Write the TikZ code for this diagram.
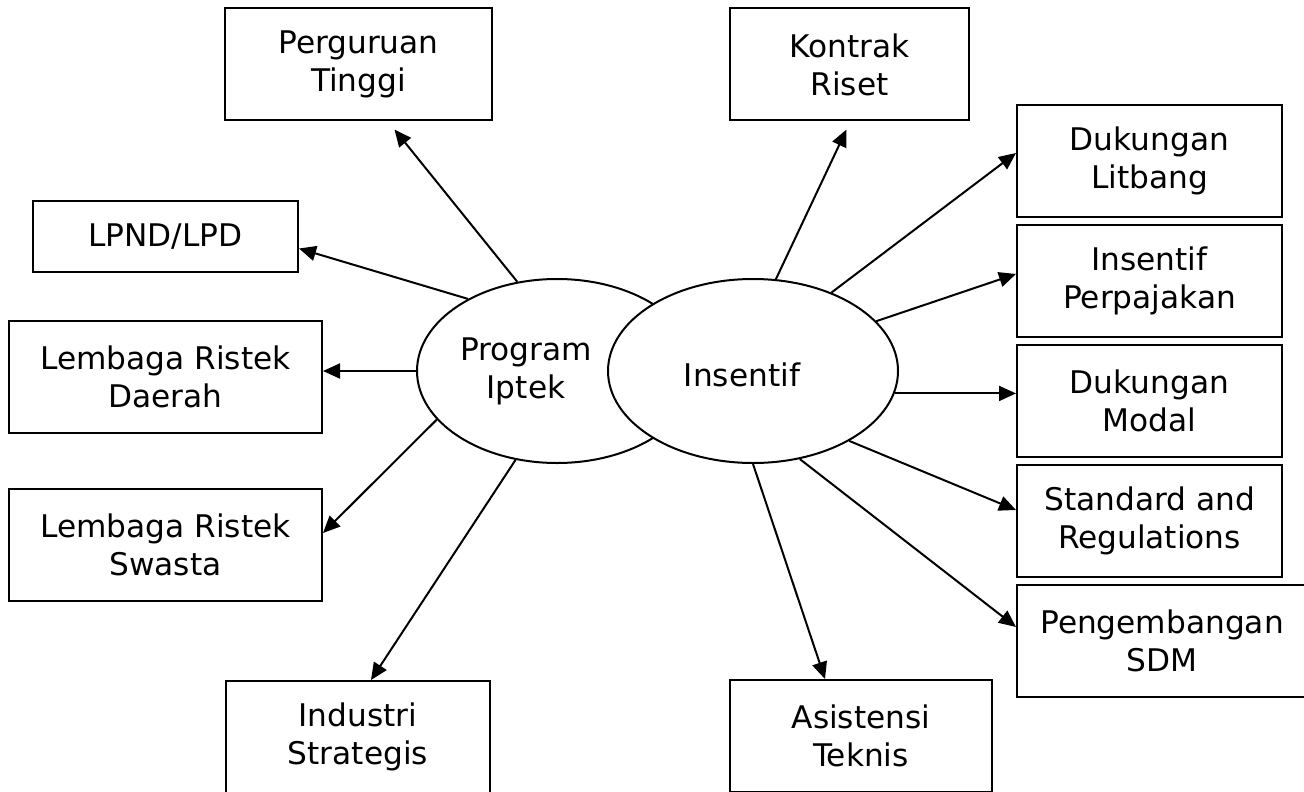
\documentclass[tikz,border=0pt]{standalone}
\usepackage{fontspec}
\setmainfont{DejaVu Sans}
\usetikzlibrary{positioning,arrows.meta,shapes.geometric}

\begin{document}
\begin{tikzpicture}[
    x=0.5pt, y=-0.5pt,
    font={\fontsize{15.6}{19}\selectfont},
    every node/.style={align=center},
    box/.style={draw,rectangle,line width=1pt,inner sep=0pt,minimum height=56pt},
    hub/.style={draw,ellipse,line width=1pt,inner sep=0pt,minimum height=92pt},
    link/.style={line width=1pt,-{Triangle[length=8.5pt,width=7.5pt]}},
]

    \path[use as bounding box,fill=white] (0,0) rectangle (1304,791);

    % Hubs
    \node[hub,minimum width=140pt,label={[xshift=-15.5pt]center:{Program\\Iptek}}] (prog) at (557,371) {};
    \node[hub,fill=white,minimum width=145pt,label={[xshift=-5.5pt,yshift=-2pt]center:Insentif}] (ins) at (753,371) {};

    % Program Iptek side
    \node[box,minimum width=133.5pt] (pt) at (358.5,64.5) {Perguruan\\Tinggi};
    \node[box,minimum width=132.5pt,minimum height=35.5pt] (lp) at (165.5,236.5) {LPND/LPD};
    \node[box,minimum width=156.5pt] (ld) at (165.5,377) {Lembaga Ristek\\Daerah};
    \node[box,minimum width=156.5pt,below=27pt of ld] (ls) {Lembaga Ristek\\Swasta};
    \node[box,minimum width=132pt] (is) at (358,737) {Industri\\Strategis};

    % Insentif side
    \node[box,minimum width=119.5pt] (kr) at (849.5,64.5) {Kontrak\\Riset};
    \node[box,minimum width=132.5pt] (dl) at (1149.5,161) {Dukungan\\Litbang};
    \node[box,minimum width=132.5pt,below=3pt of dl] (ip) {Insentif\\Perpajakan};
    \node[box,minimum width=132.5pt,below=3pt of ip] (dm) {Dukungan\\Modal};
    \node[box,minimum width=132.5pt,below=3pt of dm] (sr) {Standard and\\Regulations};
    \node[box,minimum width=145pt,below=3pt of sr.south west,anchor=north west] (ps) {Pengembangan\\SDM};
    \node[box,minimum width=131pt] (at) at (861,736) {Asistensi\\Teknis};

    % Links from Program Iptek
    \draw[link] (prog.114) -- ([xshift=18pt,yshift=-4pt]pt.south);
    \draw[link] (prog.141) -- ([yshift=-6pt]lp.east);
    \draw[link] (prog.west) -- (prog.west -| ld.east);
    \draw[link] (prog.202) -- ([yshift=6pt]ls.east);
    \draw[link] (prog.245) -- ([xshift=6.5pt]is.north);

    % Links from Insentif
    \draw[link] (ins.76) -- ([xshift=-1.5pt,yshift=-4pt]kr.south);
    \draw[link] (ins.45) -- ([yshift=4pt]dl.west);
    \draw[link] (ins.22) -- ([yshift=3.5pt]ip.west);
    \draw[link] (ins.-9) -- (ins.-9 -| dm.west);
    \draw[link] (ins.-36) -- ([yshift=5.5pt]sr.west);
    \draw[link] (ins.-62) -- ([yshift=7pt]ps.west);
    \draw[link] (ins.south) -- ([xshift=-18pt]at.north);

\end{tikzpicture}
\end{document}
